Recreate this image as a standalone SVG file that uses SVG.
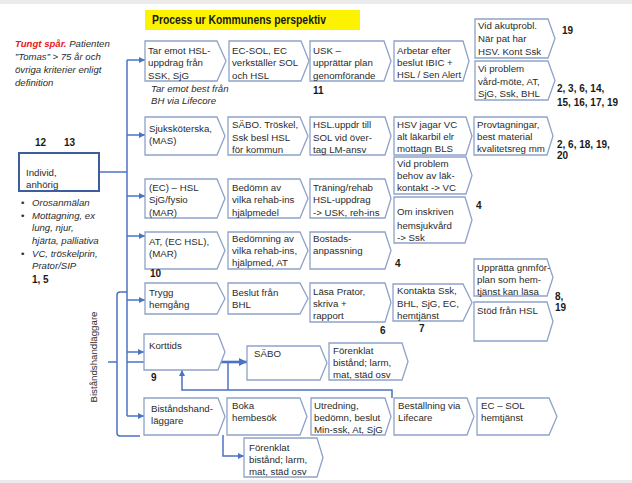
<svg xmlns="http://www.w3.org/2000/svg" width="632" height="483" viewBox="0 0 632 483">
<style>
.bg{fill:#ffffff}
.bar{fill:#ebebeb}
.box{fill:#ffffff;stroke:#8fa2c8;stroke-width:1.3}
.ind{fill:#ffffff;stroke:#3d5d9e;stroke-width:2}
.t{font-family:"Liberation Sans",Arial,sans-serif;font-size:9.7px;fill:#2b2b2b}
.i{font-family:"Liberation Sans",Arial,sans-serif;font-size:9.6px;font-style:italic;fill:#2b2b2b}
.n{font-family:"Liberation Sans",Arial,sans-serif;font-size:10px;font-weight:bold;fill:#1a1a1a}
.c{stroke:#4a73c4;stroke-width:1.5;fill:none}
.ck{stroke:#4a73c4;stroke-width:2.6;fill:none}
</style>
<defs>
<marker id="a" markerUnits="userSpaceOnUse" markerWidth="6" markerHeight="6" refX="6" refY="3" orient="auto">
<path d="M0,0 L6,3 L0,6 z" fill="#4a73c4"/>
</marker>
<marker id="ab" markerUnits="userSpaceOnUse" markerWidth="8" markerHeight="8" refX="8" refY="4" orient="auto">
<path d="M0,0 L8,4 L0,8 z" fill="#4a73c4"/>
</marker>
</defs>
<rect class="bg" x="0" y="0" width="632" height="483"/>
<rect class="bar" x="0" y="0" width="632" height="4"/>
<rect class="bar" x="0" y="480" width="632" height="3"/>

<g id="title">
<rect x="145" y="10" width="215" height="20" fill="#fdf300"/>
<text x="152" y="24" font-family="Liberation Sans,Arial,sans-serif" font-size="12px" font-weight="bold" fill="#1a1a1a" textLength="174" lengthAdjust="spacingAndGlyphs">Process ur Kommunens perspektiv</text>
</g>

<g id="intro">
<text class="i" x="15" y="47"><tspan fill="#e8191c" font-weight="bold">Tungt spår.</tspan> Patienten</text>
<text class="i" x="15" y="60">”Tomas” &gt; 75 år och</text>
<text class="i" x="15" y="73">övriga kriterier enligt</text>
<text class="i" x="15" y="86">definition</text>
</g>

<g id="connectors">
<path class="c" d="M99,172 H127"/>
<path class="c" d="M127,60 V416"/>
<path class="c" d="M127,60 H145" marker-end="url(#a)"/>
<path class="c" d="M127,135 H145" marker-end="url(#a)"/>
<path class="c" d="M127,196 H145" marker-end="url(#a)"/>
<path class="c" d="M127,236 H145" marker-end="url(#a)"/>
<path class="c" d="M127,300 H145" marker-end="url(#a)"/>
<path class="c" d="M127,352 H144" marker-end="url(#a)"/>
<path class="c" d="M127,362 H144"/>
<path class="c" d="M127,416 H144" marker-end="url(#a)"/>
<path class="c" d="M127,292 H120 Q117,292 117,295 V433 Q117,436 120,436 H140"/>
<path class="c" d="M108,362 H117"/>
<path class="ck" d="M221,362 H247" marker-end="url(#ab)"/>
<path class="c" d="M228,362 V390"/>
<path class="c" d="M392,398 V390 H182 V370" marker-end="url(#a)"/>
<path class="c" d="M223,435 V456 H244" marker-end="url(#a)"/>
</g>

<g id="individ">
<rect class="ind" x="19" y="153" width="80" height="38"/>
<text class="t" x="26" y="175.5">Individ,</text>
<text class="t" x="26" y="187.5">anhörig</text>
</g>
<g id="individ-notes">
<text class="t" x="21" y="205.5">•</text>
<text class="i" x="32" y="205.5">Orosanmälan</text>
<text class="t" x="21" y="218.5">•</text>
<text class="i" x="32" y="218.5">Mottagning, ex</text>
<text class="i" x="32" y="231">lung, njur,</text>
<text class="i" x="32" y="243.5">hjärta, palliativa</text>
<text class="t" x="21" y="256.5">•</text>
<text class="i" x="32" y="256.5">VC, tröskelprin,</text>
<text class="i" x="32" y="268.5">Prator/SIP</text>
<text class="n" x="32" y="283">1, 5</text>
<text class="n" x="35" y="146">12</text>
<text class="n" x="64" y="146">13</text>
</g>

<g id="bistandshandlaggare-label">
<text class="t" x="0" y="0" font-size="10px" transform="translate(97,357) rotate(-90)" text-anchor="middle">Biståndshandläggare</text>
</g>

<!-- Row 1 -->
<g id="n-taremot">
<polygon class="box" points="145,41 217,41 226,61 217,81 145,81"/>
<text class="t" x="148" y="53.5">Tar emot HSL-</text>
<text class="t" x="148" y="66">uppdrag från</text>
<text class="t" x="148" y="78.5">SSK, SjG</text>
</g>
<g id="n-taremot-note">
<text class="i" x="151" y="92">Tar emot best från</text>
<text class="i" x="151" y="104">BH via Lifecore</text>
</g>
<g id="n-ecsol">
<polygon class="box" points="229,41 301,41 309,61 301,81 229,81"/>
<text class="t" x="232" y="53.5">EC-SOL, EC</text>
<text class="t" x="232" y="66">verkställer SOL</text>
<text class="t" x="232" y="78.5">och HSL</text>
</g>
<g id="n-usk">
<polygon class="box" points="310,41 384,41 391,61 384,81 310,81"/>
<text class="t" x="313" y="53.5">USK –</text>
<text class="t" x="313" y="66">upprättar plan</text>
<text class="t" x="313" y="78.5">genomförande</text>
<text class="n" x="313" y="94">11</text>
</g>
<g id="n-arbetar">
<polygon class="box" points="394,41 463,41 469,61 463,81 394,81"/>
<text class="t" x="397" y="53.5">Arbetar efter</text>
<text class="t" x="397" y="66">beslut IBIC +</text>
<text class="t" x="397" y="78" textLength="64" lengthAdjust="spacingAndGlyphs">HSL / Sen Alert</text>
</g>
<g id="n-akut">
<polygon class="box" points="475,19 548,19 555,38.5 548,58 475,58"/>
<text class="t" x="478" y="29">Vid akutprobl.</text>
<text class="t" x="478" y="41.5">När pat har</text>
<text class="t" x="478" y="54.5">HSV. Kont Ssk</text>
<text class="n" x="562" y="34">19</text>
</g>
<g id="n-viproblem">
<polygon class="box" points="475,61 548,61 555,80.5 548,100 475,100"/>
<text class="t" x="478" y="72">Vi problem</text>
<text class="t" x="478" y="84.5">vård-möte, AT,</text>
<text class="t" x="478" y="97">SjG, Ssk, BHL</text>
<text class="n" x="557" y="92">2, 3, 6, 14,</text>
<text class="n" x="557" y="106">15, 16, 17, 19</text>
</g>

<!-- Row 2 -->
<g id="n-ssk">
<polygon class="box" points="145,117 217,117 225,136 217,155 145,155"/>
<text class="t" x="149" y="131.5">Sjuksköterska,</text>
<text class="t" x="149" y="144">(MAS)</text>
</g>
<g id="n-sabo-troskel">
<polygon class="box" points="228,117 300,117 308,136 300,155 228,155"/>
<text class="t" x="232" y="128">SÄBO. Tröskel,</text>
<text class="t" x="232" y="140.5">Ssk besl HSL</text>
<text class="t" x="232" y="153">för kommun</text>
</g>
<g id="n-hsluppdr">
<polygon class="box" points="310,117 385,117 391,136 385,155 310,155"/>
<text class="t" x="313" y="128">HSL.uppdr till</text>
<text class="t" x="313" y="140.5">SOL vid över-</text>
<text class="t" x="313" y="153">tag LM-ansv</text>
</g>
<g id="n-hsv">
<polygon class="box" points="394,117 466,117 472,136 466,155 394,155"/>
<text class="t" x="397" y="128">HSV jagar VC</text>
<text class="t" x="397" y="140">alt läkarbil elr</text>
<text class="t" x="397" y="152">mottagn BLS</text>
</g>
<g id="n-prov">
<polygon class="box" points="474,117 547,117 553,136 547,155 474,155"/>
<text class="t" x="477" y="128">Provtagningar,</text>
<text class="t" x="477" y="140">best material</text>
<text class="t" x="477" y="152">kvalitetsreg mm</text>
<text class="n" x="557" y="148">2, 6, 18, 19,</text>
<text class="n" x="557" y="159">20</text>
</g>

<!-- Row 3 -->
<g id="n-ec-hsl">
<polygon class="box" points="145,179 217,179 225,198.5 217,218 145,218"/>
<text class="t" x="149" y="190.5">(EC) – HSL</text>
<text class="t" x="149" y="203">SjG/fysio</text>
<text class="t" x="149" y="215.5">(MAR)</text>
</g>
<g id="n-bedomn">
<polygon class="box" points="228,179 300,179 308,198.5 300,218 228,218"/>
<text class="t" x="232" y="190.5">Bedömn av</text>
<text class="t" x="232" y="203">vilka rehab-ins</text>
<text class="t" x="232" y="215.5">hjälpmedel</text>
</g>
<g id="n-traning">
<polygon class="box" points="310,179 385,179 391,198.5 385,218 310,218"/>
<text class="t" x="313" y="190.5">Träning/rehab</text>
<text class="t" x="313" y="203">HSL-uppdrag</text>
<text class="t" x="313" y="215.5">-&gt; USK, reh-ins</text>
</g>
<g id="n-vidproblem">
<polygon class="box" points="394,157 466,157 472,175.5 466,194 394,194"/>
<text class="t" x="397" y="166.5">Vid problem</text>
<text class="t" x="397" y="178.5">behov av läk-</text>
<text class="t" x="397" y="190.5">kontakt -&gt; VC</text>
<text class="n" x="476" y="209">4</text>
</g>
<g id="n-inskriven">
<polygon class="box" points="394,197 465,197 472,220 465,243 394,243"/>
<text class="t" x="397" y="215">Om inskriven</text>
<text class="t" x="397" y="228.5">hemsjukvård</text>
<text class="t" x="397" y="241">-&gt; Ssk</text>
</g>

<!-- Row 4 -->
<g id="n-at">
<polygon class="box" points="145,232 217,232 225,250.5 217,269 145,269"/>
<text class="t" x="149" y="245">AT, (EC HSL),</text>
<text class="t" x="149" y="257">(MAR)</text>
<text class="n" x="150" y="277">10</text>
</g>
<g id="n-bedomning">
<polygon class="box" points="228,232 300,232 308,250.5 300,269 228,269"/>
<text class="t" x="232" y="241.5">Bedömning av</text>
<text class="t" x="232" y="254">vilka rehab-ins,</text>
<text class="t" x="232" y="266">hjälpmed, AT</text>
</g>
<g id="n-bostad">
<polygon class="box" points="310,232 385,232 391,250.5 385,269 310,269"/>
<text class="t" x="313" y="241.5">Bostads-</text>
<text class="t" x="313" y="254">anpassning</text>
<text class="n" x="395" y="267">4</text>
</g>

<!-- Row 5 -->
<g id="n-trygg">
<polygon class="box" points="145,283 217,283 225,298.5 217,314 145,314"/>
<text class="t" x="149" y="296">Trygg</text>
<text class="t" x="149" y="308">hemgång</text>
</g>
<g id="n-beslut">
<polygon class="box" points="228,283 300,283 308,298.5 300,314 228,314"/>
<text class="t" x="232" y="296">Beslut från</text>
<text class="t" x="232" y="308">BHL</text>
</g>
<g id="n-lasa">
<polygon class="box" points="310,283 385,283 391,302.5 385,322 310,322"/>
<text class="t" x="313" y="295">Läsa Prator,</text>
<text class="t" x="313" y="307">skriva +</text>
<text class="t" x="313" y="319">rapport</text>
<text class="n" x="380" y="334">6</text>
</g>
<g id="n-kontakta">
<polygon class="box" points="393,284 463,284 472,302.5 463,321 393,321"/>
<text class="t" x="397" y="294">Kontakta Ssk,</text>
<text class="t" x="397" y="306.5">BHL, SjG, EC,</text>
<text class="t" x="397" y="319">hemtjänst</text>
<text class="n" x="419" y="332">7</text>
</g>
<g id="n-upprata">
<polygon class="box" points="474,259 547,259 553,277.5 547,296 474,296"/>
<text class="t" x="477" y="270.5">Upprätta gnmför-</text>
<text class="t" x="477" y="282.5">plan som hem-</text>
<text class="t" x="477" y="294.5">tjänst kan läsa</text>
<text class="n" x="555" y="300">8,</text>
<text class="n" x="555" y="311">19</text>
</g>
<g id="n-stod">
<polygon class="box" points="474,302 547,302 553,321.5 547,341 474,341"/>
<text class="t" x="477" y="313.5">Stöd från HSL</text>
</g>

<!-- Row 6 -->
<g id="n-korttids">
<polygon class="box" points="144,334 218,334 225,352 218,370 144,370"/>
<text class="t" x="149" y="348.5">Korttids</text>
<text class="n" x="151" y="381">9</text>
</g>
<g id="n-sabo">
<polygon class="box" points="247,346 320,346 327,363 320,380 247,380"/>
<text class="t" x="254" y="356.5">SÄBO</text>
</g>
<g id="n-forenklat1">
<polygon class="box" points="329,343 402,343 408,361.5 402,380 329,380"/>
<text class="t" x="333" y="353.5">Förenklat</text>
<text class="t" x="333" y="366">bistånd; larm,</text>
<text class="t" x="333" y="378">mat, städ osv</text>
</g>

<!-- Row 7 -->
<g id="n-bistand">
<polygon class="box" points="144,398 218,398 225,416.5 218,435 144,435"/>
<text class="t" x="151" y="411.5">Biståndshand-</text>
<text class="t" x="151" y="423.5">läggare</text>
</g>
<g id="n-boka">
<polygon class="box" points="227,398 300,398 307,416.5 300,435 227,435"/>
<text class="t" x="232" y="408.5">Boka</text>
<text class="t" x="232" y="421">hembesök</text>
</g>
<g id="n-utredning">
<polygon class="box" points="311,398 385,398 391,416.5 385,435 311,435"/>
<text class="t" x="314" y="408.5">Utredning,</text>
<text class="t" x="314" y="421">bedömn, beslut</text>
<text class="t" x="314" y="433">Min-ssk, At, SjG</text>
</g>
<g id="n-bestallning">
<polygon class="box" points="394,398 467,398 474,416.5 467,435 394,435"/>
<text class="t" x="398" y="408.5">Beställning via</text>
<text class="t" x="398" y="421">Lifecare</text>
</g>
<g id="n-ecsol-hemtjanst">
<polygon class="box" points="477,398 549,398 557,416.5 549,435 477,435"/>
<text class="t" x="481" y="408.5">EC – SOL</text>
<text class="t" x="481" y="421">hemtjänst</text>
</g>
<g id="n-forenklat2">
<polygon class="box" points="244,438 317,438 323,457.5 317,477 244,477"/>
<text class="t" x="249" y="450.5">Förenklat</text>
<text class="t" x="249" y="463">bistånd; larm,</text>
<text class="t" x="249" y="475">mat, städ osv</text>
</g>
</svg>
